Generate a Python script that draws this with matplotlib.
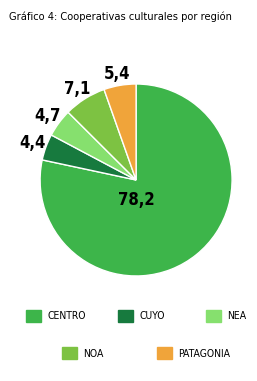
import numpy as np
import matplotlib.pyplot as plt
from matplotlib.patches import Patch

regiones = ["CENTRO", "CUYO", "NEA", "NOA", "PATAGONIA"]
valores = [78.2, 4.4, 4.7, 7.1, 5.4]
colores = ["#3db54a", "#177a3e", "#86e06e", "#7dc242", "#f0a43a"]

plt.rcParams['font.family'] = ['DejaVu Sans']
plt.rcParams['font.stretch'] = 'condensed'

fig = plt.figure(figsize=(2.57, 3.81), dpi=100)
ax = fig.add_axes([0.156, 0.2756, 0.747, 0.504])

wedges, _ = ax.pie(valores, colors=colores, startangle=90, counterclock=False,
                   wedgeprops=dict(edgecolor="white", linewidth=1.0))
ax.set_xlim(-1, 1)
ax.set_ylim(-1, 1)
ax.set_aspect("equal")

for w, v in zip(wedges, valores):
    ang = np.deg2rad((w.theta1 + w.theta2) / 2)
    txt = f"{v:.1f}".replace(".", ",")
    if v > 50:
        x, y = 0.0, -0.21
    else:
        x, y = 1.15 * np.cos(ang), 1.12 * np.sin(ang)
    ax.text(x, y, txt, ha="center", va="center", fontsize=12,
            fontweight="bold", clip_on=False)

fig.text(0.035, 0.955, "Gráfico 4: Cooperativas culturales por región",
         fontsize=7.9, ha="left", va="center")

# posiciones de la leyenda (2 filas)
leg_x = [0.1, 0.46, 0.8, 0.24, 0.61]
leg_y = [0.171, 0.171, 0.171, 0.073, 0.073]
for reg, c, lx, ly in zip(regiones, colores, leg_x, leg_y):
    fig.legend([Patch(facecolor=c, edgecolor=c)], [reg], loc="center left",
               bbox_to_anchor=(lx, ly), frameon=False, fontsize=7.5,
               handlelength=1.45, handleheight=1.45, handletextpad=0.6,
               borderpad=0, borderaxespad=0)

fig.savefig("out.png", dpi=100)
